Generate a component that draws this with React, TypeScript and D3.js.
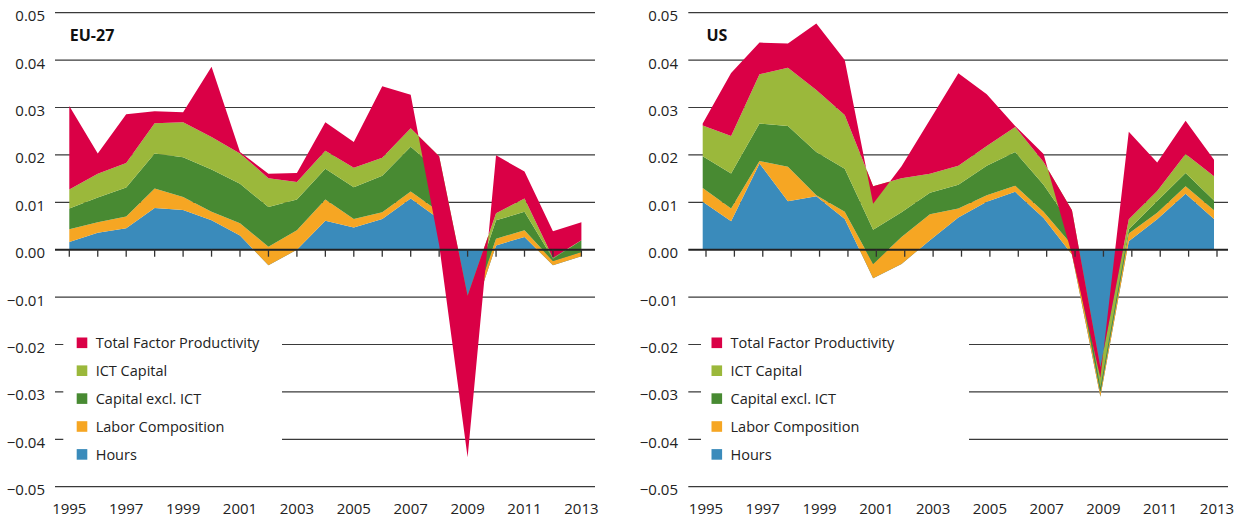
import React from "react";
import * as d3 from "d3";

const YEARS = [1995,1996,1997,1998,1999,2000,2001,2002,2003,2004,2005,2006,2007,2008,2009,2010,2011,2012,2013];
const YEAR_LABELS = [1995,1997,1999,2001,2003,2005,2007,2009,2011,2013];
const Y_TICKS = [0.05,0.04,0.03,0.02,0.01,0,-0.01,-0.02,-0.03,-0.04,-0.05];
const SERIES_NAMES = ["Hours","Labor Composition","Capital excl. ICT","ICT Capital","Total Factor Productivity"];
const SERIES_COLORS = ["#3a8bbb","#f6a623","#488a32","#9bb83b","#da0046"];

// EU-27
const euHours   = [.0016,.0036,.0045,.0088,.0084,.0062,.003,-.0033,0,.0061,.0047,.0065,.0108,.0065,-.017,.0009,.0027,-.0033,-.0014];
const euLabor   = [.0027,.0022,.0025,.0041,.0027,.0018,.0026,.0039,.0041,.0045,.0018,.0014,.0015,.0015,.002,.0014,.0014,.0009,.0009];
const euCapital = [.0044,.0052,.0061,.0074,.0084,.0089,.0083,.0084,.0065,.0065,.0067,.0077,.0094,.0085,.0035,.0039,.0039,.0005,.0025];
const euICT     = [.004,.005,.0052,.0064,.0074,.0069,.0064,.0061,.0037,.0038,.0041,.0038,.0039,.0032,.0018,.0015,.0028,.0002,0];
const euTFP     = [.0176,.0043,.0103,.0025,.0021,.0148,.0003,.0009,.0019,.006,.0054,.0151,.0071,-.0187,-.0341,.0122,.0057,.0056,.0038];

// US
const usHours   = [.0101,.006,.0182,.0102,.0113,.0065,-.006,-.003,.002,.0068,.0101,.0122,.0067,-.001,-.031,.0018,.0064,.0118,.0065];
const usLabor   = [.0029,.0027,.0005,.0073,.0002,.0015,.003,.0057,.0055,.0019,.0014,.0013,.0013,.002,.001,.0016,.0014,.0016,.0018];
const usCapital = [.0067,.0074,.0079,.0086,.0091,.0091,.0072,.0052,.0045,.005,.0062,.0071,.0057,.004,.001,.0009,.0025,.0028,.0021];
const usICT     = [.0065,.0079,.0104,.0123,.0131,.0113,.0092,.0072,.004,.004,.0042,.0053,.0048,.0033,.0042,.0021,.0021,.004,.0051];
const usTFP     = [.0004,.0133,.0067,.0051,.014,.0116,-.0037,.0025,.0114,.0195,.0109,.0002,.0017,-.0093,-.0022,.0185,.006,.007,.0035];

const FONT = "'Open Sans', 'DejaVu Sans', sans-serif";
const TEXT = "#222";

type PanelCfg = {
  title: string;
  series: number[][];
  gridX0: number; gridX1: number;
  tickX0: number; tickX1: number;
  areaX0: number; areaX1: number;
  labelRight: number;
  legendBox: [number, number];
  legendSq: number;
};

const y = d3.scaleLinear().domain([-0.05, 0.05]).range([486.7, 12.7]);

function Panel({ cfg }: { cfg: PanelCfg }) {
  const xt = d3.scaleLinear().domain([1995, 2013]).range([cfg.tickX0, cfg.tickX1]);
  const xa = d3.scaleLinear().domain([1995, 2013]).range([cfg.areaX0, cfg.areaX1]);
  const rows = YEARS.map((yr, i) => {
    const r: any = { year: yr };
    SERIES_NAMES.forEach((n, k) => (r[n] = cfg.series[k][i]));
    return r;
  });
  const stacked = d3.stack().keys(SERIES_NAMES).order(d3.stackOrderNone).offset(d3.stackOffsetNone)(rows);
  const area = d3.area<any>()
    .x((d: any) => xa(d.data.year))
    .y0((d: any) => y(d[0]))
    .y1((d: any) => y(d[1]));
  const legendOrder = [4, 3, 2, 1, 0];
  return (
    <g>
      {Y_TICKS.filter((t) => t !== 0).map((t) => (
        <line key={t} x1={cfg.gridX0} x2={cfg.gridX1} y1={y(t)} y2={y(t)} stroke="#3a3a3a" strokeWidth={1.2} />
      ))}
      <rect x={cfg.legendBox[0]} y={312} width={cfg.legendBox[1] - cfg.legendBox[0]} height={160} fill="#fff" />
      {stacked.map((s, k) => (
        <path key={k} d={area(s as any) || ""} fill={SERIES_COLORS[k]} />
      ))}
      <line x1={cfg.gridX0} x2={cfg.gridX1} y1={y(0)} y2={y(0)} stroke="#222" strokeWidth={2} />
      {YEARS.map((yr) => (
        <line key={yr} x1={xt(yr)} x2={xt(yr)} y1={y(0)} y2={y(0) + 7} stroke="#333" strokeWidth={1.3} />
      ))}
      {Y_TICKS.map((t) => (
        <text key={t} x={cfg.labelRight} y={y(t) + 8.5} textAnchor="end" fontFamily={FONT} fontSize={15} fill={TEXT}>
          {t === 0 ? "0.00" : d3.format(".2f")(t)}
        </text>
      ))}
      {YEAR_LABELS.map((yr) => (
        <text key={yr} x={xt(yr)} y={514} textAnchor="middle" fontFamily={FONT} fontSize={15} fill={TEXT}>
          {yr}
        </text>
      ))}
      <text x={cfg.tickX0 + 0.5} y={40.5} fontFamily={FONT} fontSize={16} fontWeight="bold" fill="#111">
        {cfg.title}
      </text>
      {legendOrder.map((k, i) => {
        const cy = 342.8 + i * 27.9;
        return (
          <g key={k}>
            <rect x={cfg.legendSq} y={cy - 5.3} width={10.6} height={10.6} fill={SERIES_COLORS[k]} />
            <text x={cfg.legendSq + 19} y={cy + 5.3} fontFamily={FONT} fontSize={14.5} fill={TEXT}>
              {SERIES_NAMES[k]}
            </text>
          </g>
        );
      })}
    </g>
  );
}

const EU: PanelCfg = {
  title: "EU-27",
  series: [euHours, euLabor, euCapital, euICT, euTFP],
  gridX0: 55, gridX1: 595,
  tickX0: 69.3, tickX1: 581.4,
  areaX0: 69.3, areaX1: 581.4,
  labelRight: 45,
  legendBox: [63.3, 282],
  legendSq: 76.7,
};

const US: PanelCfg = {
  title: "US",
  series: [usHours, usLabor, usCapital, usICT, usTFP],
  gridX0: 688.3, gridX1: 1228,
  tickX0: 706, tickX1: 1217,
  areaX0: 702.7, areaX1: 1214,
  labelRight: 678,
  legendBox: [701, 969],
  legendSq: 711.5,
};

export default function App() {
  return (
    <svg width={1238} height={522} style={{ position: "absolute", left: 0, top: 0, display: "block", background: "#fff" }}>
      <rect x={0} y={0} width={1238} height={522} fill="#fff" />
      <Panel cfg={EU} />
      <Panel cfg={US} />
    </svg>
  );
}
